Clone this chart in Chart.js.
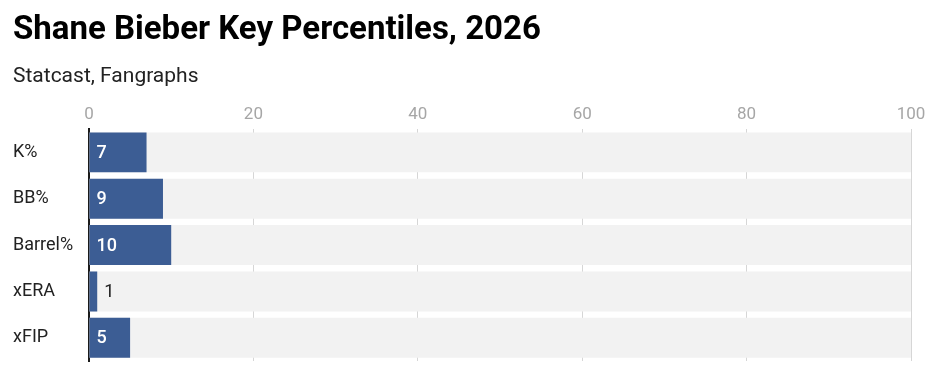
<!DOCTYPE html>
<html>
<head>
<meta charset="utf-8">
<script src="https://cdn.jsdelivr.net/npm/chart.js@4/dist/chart.umd.min.js"></script>
<style>
  html, body { margin: 0; padding: 0; background: #fff; }
  #wrap { width: 925px; height: 366px; position: relative; }
</style>
</head>
<body>
<div id="wrap"><canvas id="c"></canvas></div>
<script>
const categories = ["K%", "BB%", "Barrel%", "xERA", "xFIP"];
const percentiles = [7, 9, 10, 1, 5];
const maxPercentiles = [100, 100, 100, 100, 100];
const xTicks = [0, 20, 40, 60, 80, 100];

const FONT = "Roboto, 'Noto Sans', sans-serif";
const BLUE = "#3c5d94";

const valueLabels = {
  id: "valueLabels",
  afterDatasetsDraw(chart) {
    const ctx = chart.ctx;
    const meta = chart.getDatasetMeta(1);
    ctx.save();
    ctx.textBaseline = "middle";
    ctx.textAlign = "left";
    meta.data.forEach((bar, i) => {
      const txt = String(percentiles[i]);
      ctx.font = "500 18px " + FONT;
      const w = ctx.measureText(txt).width;
      const left = bar.base;
      const right = bar.x;
      if (right - left >= w + 14) {
        ctx.fillStyle = "#ffffff";
        ctx.fillText(txt, left + 7, bar.y + 1);
      } else {
        ctx.fillStyle = "#222222";
        ctx.font = "400 18px " + FONT;
        ctx.fillText(txt, right + 7, bar.y + 1);
      }
    });
    ctx.restore();
  }
};

new Chart(document.getElementById("c"), {
  type: "bar",
  data: {
    labels: categories,
    datasets: [
      {
        label: "Max",
        data: maxPercentiles,
        backgroundColor: "#f2f2f2",
        borderWidth: 0,
        grouped: false,
        order: 2,
        barPercentage: 1,
        categoryPercentage: 0.862
      },
      {
        label: "Percentile",
        data: percentiles,
        backgroundColor: BLUE,
        borderWidth: 0,
        grouped: false,
        order: 1,
        barPercentage: 1,
        categoryPercentage: 0.862
      }
    ]
  },
  options: {
    indexAxis: "y",
    responsive: true,
    maintainAspectRatio: false,
    animation: false,
    events: [],
    layout: { padding: { left: 13, right: 14, top: 0, bottom: 5 } },
    plugins: {
      legend: { display: false },
      tooltip: { enabled: false },
      title: {
        display: true,
        text: "Shane Bieber Key Percentiles, 2026",
        align: "start",
        color: "#000000",
        font: { family: FONT, size: 33, weight: "bold", lineHeight: 1.2 },
        padding: { top: 11, bottom: 5 }
      },
      subtitle: {
        display: true,
        text: "Statcast, Fangraphs",
        align: "start",
        color: "#222222",
        font: { family: FONT, size: 21, weight: "normal", lineHeight: 1.2 },
        padding: { top: 9, bottom: 11 }
      }
    },
    scales: {
      x: {
        position: "top",
        min: 0,
        max: 100,
        z: 1,
        afterBuildTicks(scale) { scale.ticks = xTicks.map(v => ({ value: v })); },
        afterFit(scale) { scale.paddingLeft = 0; scale.paddingRight = 0; },
        border: { display: false },
        grid: {
          drawTicks: false,
          color: (c) => (c.tick && c.tick.value === 0) ? "rgba(0,0,0,0)" : "#d6d6d6",
          lineWidth: 1
        },
        ticks: {
          color: "#a6a6a6",
          padding: 4,
          font: { family: FONT, size: 17, lineHeight: 1.2 }
        }
      },
      y: {
        z: 2,
        afterFit(scale) { scale.width = 76; scale.paddingTop = 0; scale.paddingBottom = 0; },
        border: { display: true, color: "#1a1a1a", width: 2 },
        grid: { display: false, drawTicks: false },
        ticks: {
          crossAlign: "far",
          color: "#222222",
          font: { family: FONT, size: 18 }
        }
      }
    }
  },
  plugins: [valueLabels]
});
</script>
</body>
</html>
